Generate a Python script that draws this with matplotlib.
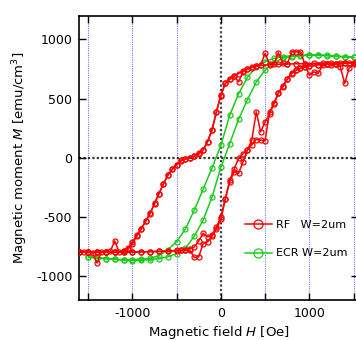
import numpy as np
import matplotlib
matplotlib.use("Agg")
import matplotlib.pyplot as plt
from matplotlib.ticker import FixedLocator

plt.rcParams["font.family"] = ["DejaVu Sans"]
plt.rcParams["axes.unicode_minus"] = False
plt.rcParams["mathtext.fontset"] = "dejavusans"

# RF loop 1 (descending then ascending branch)
rf1_desc_h = [1550, 1450, 1350, 1250, 1150, 1050, 950, 850, 750, 650, 550, 450,
              400, 350, 300, 250, 200, 150, 100, 50, 0, -50, -100, -150, -200, -250,
              -300, -350, -400, -450, -500, -550, -600, -650, -700, -750, -800, -850,
              -900, -950, -1000, -1050, -1100, -1200, -1300, -1400, -1500, -1600]
rf1_desc_m = [800, 800, 800, 800, 800, 798, 796, 794, 792, 790, 786, 780,
              775, 766, 752, 730, 712, 692, 665, 630, 525, 390, 238, 138, 66, 32,
              14, 2, -10, -25, -58, -95, -148, -222, -305, -388, -468, -535,
              -600, -660, -725, -772, -790, -795, -795, -795, -795, -795]
rf1_asc_h = [-1600, -1500, -1400, -1300, -1200, -1100, -1000, -900, -800, -700, -600,
             -500, -450, -400, -350, -300, -250, -200, -150, -100, -50, 0, 50, 100,
             150, 200, 250, 300, 350, 400, 450, 500, 550, 600, 650, 700, 750, 800,
             850, 900, 950, 1000, 1100, 1200, 1300, 1400, 1500, 1550]
rf1_asc_m = [-795, -795, -795, -795, -795, -795, -794, -793, -791, -789, -786,
             -782, -780, -776, -768, -752, -700, -638, -667, -653, -585, -500, -345, -190,
             -95, -5, 35, 65, 150, 389, 220, 304, 370, 455, 550, 600, 662, 712,
             738, 756, 768, 776, 785, 790, 795, 798, 800, 800]

# RF loop 2 (noisier measurement)
rf2_desc_h = [1550, 1500, 1450, 1400, 1350, 1300, 1250, 1200, 1150, 1100, 1050, 1000,
              950, 900, 850, 800, 750, 700, 650, 600, 550, 500, 450, 400, 350, 300,
              250, 200, 150, 100, 50, 0, -50, -100, -150, -200, -250, -300, -350,
              -400, -450, -500, -550, -600, -650, -700, -750, -800, -850, -900, -950,
              -1000, -1050, -1100, -1150, -1200, -1250, -1300, -1350, -1400, -1450,
              -1500, -1550, -1600]
rf2_desc_m = [790, 790, 760, 628, 770, 790, 785, 790, 780, 713, 726, 698,
              790, 895, 895, 895, 790, 800, 887, 795, 790, 882, 785, 775, 762, 748,
              726, 642, 690, 662, 628, 530, 389, 234, 135, 65, 37, 14, 0,
              -10, -22, -62, -98, -146, -220, -301, -385, -470, -535, -597, -655,
              -709, -765, -790, -795, -701, -790, -795, -795, -887, -800,
              -795, -795, -795]
rf2_asc_h = [-1600, -1500, -1400, -1300, -1200, -1100, -1000, -900, -800, -700, -600,
             -500, -450, -400, -350, -300, -250, -200, -150, -100, -50, 0, 50, 100,
             150, 200, 250, 300, 350, 400, 450, 500, 550, 600, 650, 700, 750, 800,
             850, 900, 950, 1000, 1100, 1200, 1300, 1400, 1500, 1550]
rf2_asc_m = [-795, -795, -795, -795, -795, -795, -795, -794, -792, -790, -788,
             -785, -782, -780, -780, -841, -836, -723, -709, -660, -600, -520, -350, -200,
             -118, -132, -34, 65, 110, 155, 150, 144, 389, 459, 545, 610, 665, 715,
             742, 758, 770, 778, 786, 792, 796, 798, 800, 800]

# ECR loop
ecr_desc_h = [1500, 1400, 1300, 1200, 1100, 1000, 900, 800, 700, 600, 500, 400, 300,
              200, 100, 0, -100, -200, -300, -400, -500, -600, -700, -800, -900,
              -1000, -1100, -1200, -1300, -1400, -1500]
ecr_desc_m = [848, 852, 857, 862, 866, 867, 866, 862, 855, 840, 812, 769, 680,
              540, 360, 105, -85, -265, -440, -600, -707, -775, -825, -848, -855,
              -858, -858, -855, -850, -845, -838]
ecr_asc_h = [-1500, -1400, -1300, -1200, -1100, -1000, -900, -800, -700, -600, -500,
             -400, -300, -200, -100, 0, 100, 200, 300, 400, 500, 600, 700, 800, 900,
             1000, 1100, 1200, 1300, 1400, 1500]
ecr_asc_m = [-836, -845, -850, -857, -864, -868, -865, -858, -850, -836, -808,
             -765, -660, -526, -330, -80, 120, 325, 490, 640, 742, 803, 842, 855, 862,
             867, 868, 866, 860, 854, 848]

RED = "#ff0000"
GREEN = "#1ccc1c"

fig = plt.figure(figsize=(3.56, 3.40), dpi=100)
ax = fig.add_axes([0.2228, 0.1176, 0.7815, 0.8362])

for gx in [-1500, -1000, -500, 500, 1000, 1500]:
    ax.axvline(gx, color="#7777ff", lw=0.8, ls=(0, (1, 1)), zorder=1)
ax.axvline(0, color="#444455", lw=1.6, ls=(0, (1, 1)), zorder=1)
ax.axhline(0, color="#333333", lw=1.6, ls=(0, (1, 1)), zorder=1)

mk = dict(marker="o", ms=3.6, mfc="none", mew=0.9, lw=1.1)
ax.plot(ecr_desc_h + ecr_asc_h, ecr_desc_m + ecr_asc_m, color=GREEN,
        label="ECR W=2um", zorder=3, **mk)
ax.plot(rf2_desc_h + rf2_asc_h, rf2_desc_m + rf2_asc_m, color=RED, zorder=4, **mk)
ax.plot(rf1_desc_h + rf1_asc_h, rf1_desc_m + rf1_asc_m, color=RED,
        label="RF   W=2um", zorder=4, **mk)

ax.set_xlim(-1600, 1545)
ax.set_ylim(-1200, 1200)
ax.xaxis.set_major_locator(FixedLocator([-1000, 0, 1000]))
ax.xaxis.set_minor_locator(FixedLocator([-1500, -500, 500, 1500]))
ax.yaxis.set_major_locator(FixedLocator([-1000, -500, 0, 500, 1000]))
ax.tick_params(which="both", direction="in", top=True, right=True,
               length=5, width=1, labelsize=9, pad=5)
for s in ax.spines.values():
    s.set_linewidth(1.2)

ax.set_xlabel(r"Magnetic field $\it{H}$ [Oe]", fontsize=9.5, labelpad=3)
ax.set_ylabel(r"Magnetic moment $\it{M}$ [emu/cm$^{3}$]", fontsize=9.5, labelpad=4)

h, l = ax.get_legend_handles_labels()
ax.legend(h[::-1], l[::-1], loc="center left", bbox_to_anchor=(0.596, 0.2146),
          frameon=False, fontsize=8, borderpad=0, borderaxespad=0,
          handlelength=2.4, handletextpad=0.4, labelspacing=1.7,
          markerscale=1.8, numpoints=1)

fig.savefig("out.png", dpi=100)
